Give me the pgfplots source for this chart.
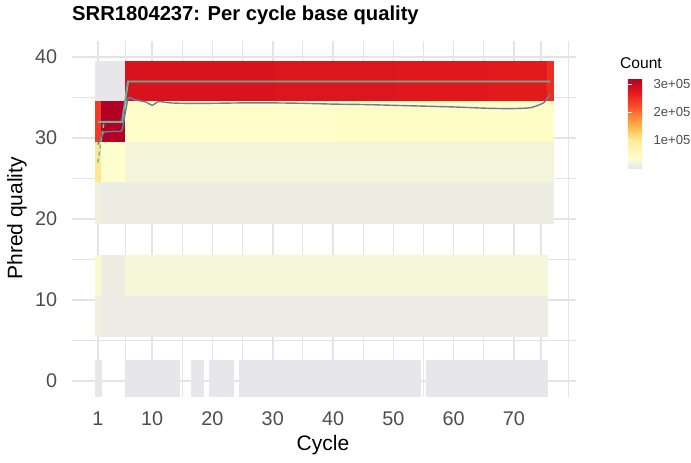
\documentclass[border=0pt]{standalone}
\usepackage{fontspec}
\setmainfont{Liberation Sans}
\usepackage{pgfplots}
\usepackage{pgfplotstable}
\pgfplotsset{compat=1.18}
\usepgfplotslibrary{patchplots}
\definecolor{gridc}{HTML}{E4E4E4}
\definecolor{tickc}{HTML}{4D4D4D}
\definecolor{medc}{HTML}{66C2A5}
\definecolor{meanc}{RGB}{108,122,158}

% tiles: 4 corners per rectangle, count in units of 1e5
\pgfplotstableread{
x y c
0.5 34.5 0.02
5.5 34.5 0.02
5.5 39.5 0.02
0.5 39.5 0.02
5.5 34.5 2.82
30.5 34.5 2.82
30.5 39.5 2.82
5.5 39.5 2.82
30.5 34.5 2.78
50.5 34.5 2.78
50.5 39.5 2.78
30.5 39.5 2.78
50.5 34.5 2.74
65.5 34.5 2.74
65.5 39.5 2.74
50.5 39.5 2.74
65.5 34.5 2.7
75.5 34.5 2.7
75.5 39.5 2.7
65.5 39.5 2.7
75.5 34.5 2.52
76.5 34.5 2.52
76.5 39.5 2.52
75.5 39.5 2.52
0.5 29.5 2.4
1.5 29.5 2.4
1.5 34.5 2.4
0.5 34.5 2.4
1.5 29.5 3.2
5.5 29.5 3.2
5.5 34.5 3.2
1.5 34.5 3.2
5.5 29.5 0.38
40.5 29.5 0.38
40.5 34.5 0.38
5.5 34.5 0.38
40.5 29.5 0.42
76.5 29.5 0.42
76.5 34.5 0.42
40.5 34.5 0.42
0.5 24.5 1.0
1.5 24.5 1.0
1.5 29.5 1.0
0.5 29.5 1.0
1.5 24.5 0.33
5.5 24.5 0.33
5.5 29.5 0.33
1.5 29.5 0.33
5.5 24.5 0.2
76.5 24.5 0.2
76.5 29.5 0.2
5.5 29.5 0.2
0.5 19.5 0.14
1.5 19.5 0.14
1.5 24.5 0.14
0.5 24.5 0.14
1.5 19.5 0.1
76.5 19.5 0.1
76.5 24.5 0.1
1.5 24.5 0.1
0.5 10.5 0.3
1.5 10.5 0.3
1.5 15.5 0.3
0.5 15.5 0.3
1.5 10.5 0.1
5.5 10.5 0.1
5.5 15.5 0.1
1.5 15.5 0.1
5.5 10.5 0.22
75.5 10.5 0.22
75.5 15.5 0.22
5.5 15.5 0.22
0.5 5.5 0.12
1.5 5.5 0.12
1.5 10.5 0.12
0.5 10.5 0.12
1.5 5.5 0.09
75.5 5.5 0.09
75.5 10.5 0.09
1.5 10.5 0.09
0.5 -2.5 0.01
1.5 -2.5 0.01
1.5 2.5 0.01
0.5 2.5 0.01
5.5 -2.5 0.01
14.5 -2.5 0.01
14.5 2.5 0.01
5.5 2.5 0.01
16.5 -2.5 0.01
18.5 -2.5 0.01
18.5 2.5 0.01
16.5 2.5 0.01
19.5 -2.5 0.01
23.5 -2.5 0.01
23.5 2.5 0.01
19.5 2.5 0.01
24.5 -2.5 0.01
54.5 -2.5 0.01
54.5 2.5 0.01
24.5 2.5 0.01
55.5 -2.5 0.01
75.5 -2.5 0.01
75.5 2.5 0.01
55.5 2.5 0.01
}\tiles

\pgfplotstableread{
cycle q
1 32
2 32
3 32
4 32
5 32
6 37
20 37
40 37
60 37
76 37
}\median

\pgfplotstableread{
cycle q
1 27
2 32
}\lowq

\pgfplotstableread{
cycle q
1 29.2
2 30.7
3 30.8
4 30.85
5 31.0
6 34.9
7 34.75
8 34.6
9 34.45
10 34.05
11 34.5
12 34.45
13 34.35
15 34.3
20 34.3
25 34.35
30 34.35
35 34.3
40 34.2
45 34.15
50 34.05
55 33.95
60 33.85
65 33.7
68 33.65
70 33.65
72 33.7
73 33.8
74 34.05
75 34.4
76 35.4
}\meanq

\begin{document}
\begin{tikzpicture}
\useasboundingbox (0,0) rectangle (691pt,463pt);
\begin{axis}[
  at={(72pt,66pt)}, anchor=south west,
  width=504pt, height=356pt, scale only axis,
  xmin=-3.3, xmax=80.3, ymin=-2, ymax=42,
  axis line style={draw=none},
  xtick={1,10,20,30,40,50,60,70},
  minor xtick={5.5,15,25,35,45,55,65,74.5,79},
  ytick={0,10,20,30,40},
  minor ytick={5,15,25,35},
  major tick length=0pt, minor tick length=0pt,
  grid=both,
  major grid style={draw=gridc, line width=1.5pt},
  minor grid style={draw=gridc, line width=1.1pt},
  /pgf/number format/assume math mode=true,
  tick label style={font=\fontsize{19.8}{20}\selectfont, text=tickc},
  xticklabel style={anchor=base, yshift=-29pt},
  yticklabel style={anchor=east, inner sep=0pt, xshift=-14.7pt},
  colormap={cnt}{rgb255(0pt)=(230,230,236); rgb255(35pt)=(255,255,204); rgb255(90pt)=(255,237,160); rgb255(120pt)=(254,217,118); rgb255(150pt)=(254,178,76); rgb255(180pt)=(253,141,60); rgb255(220pt)=(252,78,42); rgb255(270pt)=(227,26,28); rgb255(322pt)=(177,0,38)},
  point meta min=0, point meta max=3.22,
  colorbar,
  colorbar style={
    at={(parent axis.north east)}, anchor=north west,
    xshift=43.3pt, yshift=-37pt,
    scale only axis, width=20pt, height=90pt,
    ytick={1,2,3}, yticklabels={1e+05,2e+05,3e+05},
    yticklabel style={font=\fontsize{13.1}{14}\selectfont, text=tickc, anchor=west, xshift=2.3pt},
    axis line style={draw=none},
    major tick length=4pt, tick align=inside, ytick pos=both, yticklabel pos=right,
    tick style={white, line width=0.9pt},
  },
]
\addplot[patch, patch type=rectangle, shader=flat mean, point meta=explicit]
  table[x=x, y=y, meta=c] {\tiles};
\addplot[medc, line width=1.9pt, no markers] table[x=cycle, y=q] {\median};
\addplot[medc, line width=1.6pt, dash pattern=on 4pt off 3pt, no markers] table[x=cycle, y=q] {\lowq};
\addplot[gray, opacity=0.45, line width=1.0pt, no markers] table[x=cycle, y=q] {\median};
\addplot[meanc, line width=1.4pt, no markers, smooth, tension=0.3] table[x=cycle, y=q] {\meanq};
\end{axis}
\node[anchor=base west, inner sep=0pt, font=\bfseries\fontsize{20.2}{22}\selectfont] at (72pt,442.3pt) {SRR1804237: Per cycle base quality};
\node[anchor=base, inner sep=0pt, font=\fontsize{21}{24}\selectfont] at (323pt,12pt) {Cycle};
\node[anchor=base, inner sep=0pt, rotate=90, font=\fontsize{21}{24}\selectfont] at (22.4pt,244.7pt) {Phred quality};
\node[anchor=base west, inner sep=0pt, font=\fontsize{15.6}{18}\selectfont] at (620pt,394pt) {Count};
\end{tikzpicture}
\end{document}
